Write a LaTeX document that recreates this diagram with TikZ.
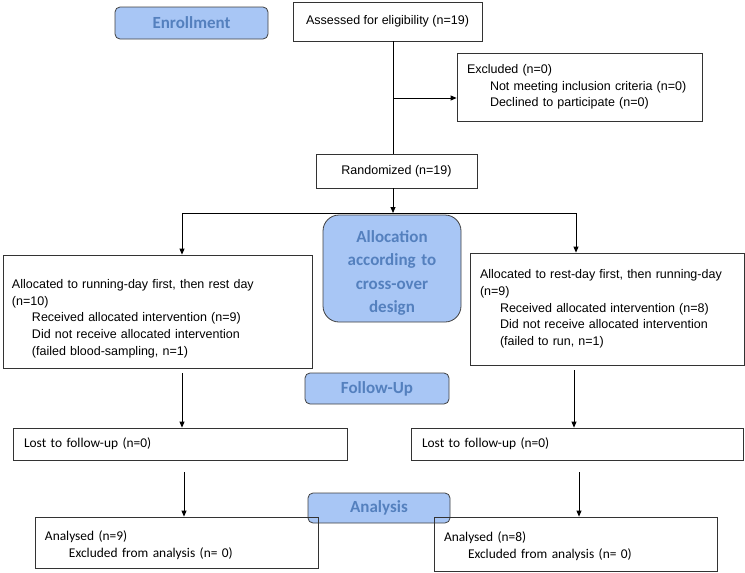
\documentclass[tikz,border=0pt]{standalone}
\usepackage{fontspec}
\setmainfont{Liberation Sans}
\newfontfamily\calfont{Carlito}
\usetikzlibrary{arrows.meta}
\definecolor{stagefill}{RGB}{168,198,245}
\definecolor{stagetext}{RGB}{84,128,190}

\begin{document}
\begin{tikzpicture}[x=1pt,y=-1pt,
  box/.style={draw=black!80, line width=0.8pt, inner sep=0pt,
    font=\fontsize{12.5}{16.7}\selectfont},
  listbox/.style={box, align=left, inner xsep=10pt},
  lowbox/.style={listbox, font=\calfont\fontsize{13.4}{17}\selectfont},
  stage/.style={draw=black!75, line width=0.8pt, fill=stagefill, rounded corners=5pt,
    text=stagetext, font=\calfont\bfseries\fontsize{17}{23.5}\selectfont},
  arr/.style={-{Triangle[length=6pt,width=5pt]}, line width=0.8pt}]
\useasboundingbox (0,0) rectangle (745,573);

% Stage labels on the side
\node[stage, minimum width=153, minimum height=32] (enroll) at (191.5,23) {Enrollment};
\node[stage, minimum width=144, minimum height=31] (followup) at (377,388.5) {Follow-Up};
\node[stage, minimum width=142, minimum height=30] (analysis) at (379,508) {Analysis};
\node[stage, rounded corners=16pt, minimum width=138, minimum height=107,
  text width=130, align=center] (alloc) at (392,268.5)
  {\rule{0pt}{21pt}Allocation\\ according to\\ cross-over\\ design};

% Enrollment boxes
\node[box, minimum width=189, minimum height=39] (assess) at (387.5,21.5)
  {Assessed for eligibility (n=19)};
\node[listbox, text width=225, minimum height=68] (excl) at (579.5,87)
  {Excluded (n=0)\\
   \hspace*{23pt}Not meeting inclusion criteria (n=0)\\
   \hspace*{23pt}Declined to participate (n=0)};
\node[box, minimum width=161, minimum height=34] (rand) at (396.5,171)
  {Randomized (n=19)};

% Allocation boxes
\node[listbox, inner xsep=9pt, text width=291, minimum height=113] (armA) at (157.5,311.5)
  {\rule{0pt}{23pt}Allocated to running-day first, then rest day\\
   (n=10)\\
   \hspace*{20pt}Received allocated intervention (n=9)\\
   \hspace*{20pt}Did not receive allocated intervention\\
   \hspace*{20pt}(failed blood-sampling, n=1)};
\node[listbox, text width=254, minimum height=112] (armB) at (607,309)
  {Allocated to rest-day first, then running-day\\
   (n=9)\\
   \hspace*{20pt}Received allocated intervention (n=8)\\
   \hspace*{20pt}Did not receive allocated intervention\\
   \hspace*{20pt}(failed to run, n=1)};

% Follow-up and analysis boxes
\node[lowbox, inner xsep=11pt, text width=312, minimum height=32] (lostA) at (180,444)
  {Lost to follow-up (n=0)};
\node[lowbox, inner xsep=11pt, text width=310, minimum height=32] (lostB) at (577,444)
  {Lost to follow-up (n=0)};
\node[lowbox, text width=263, minimum height=51] (anaA) at (176.5,542.5)
  {\rule{0pt}{15pt}Analysed (n=9)\\ \hspace*{24pt}Excluded from analysis (n= 0)};
\node[lowbox, text width=263, minimum height=54] (anaB) at (575.5,544)
  {\rule{0pt}{15pt}Analysed (n=8)\\ \hspace*{24pt}Excluded from analysis (n= 0)};

% Connectors
\coordinate (spine) at (393,98);
\coordinate (split) at (393,213);
\coordinate (splitA) at (182,213);
\coordinate (splitB) at (576,213);
\draw[line width=0.8pt] (spine |- assess.south) -- (spine |- rand.north);
\draw[arr] (spine) -- (spine -| excl.west);
\draw[arr] (split |- rand.south) -- (split);
\draw[line width=0.8pt] (splitA) -- (splitB);
\draw[arr] (splitA) -- (splitA |- armA.north);
\draw[arr] (splitB) -- (splitB |- armB.north);

% Arrows down the two arms
\foreach \col/\up/\down/\dx in {182/armA/lostA/0, 576/armB/lostB/-2}
  \draw[arr] ([yshift=-5pt]\col+\dx,0 |- \up.south) -- (\col+\dx,0 |- \down.north);
\foreach \col/\up/\down in {184/lostA/anaA, 579/lostB/anaB}
  \draw[arr] ([yshift=-12pt]\col,0 |- \up.south) -- (\col,0 |- \down.north);

\end{tikzpicture}
\end{document}
